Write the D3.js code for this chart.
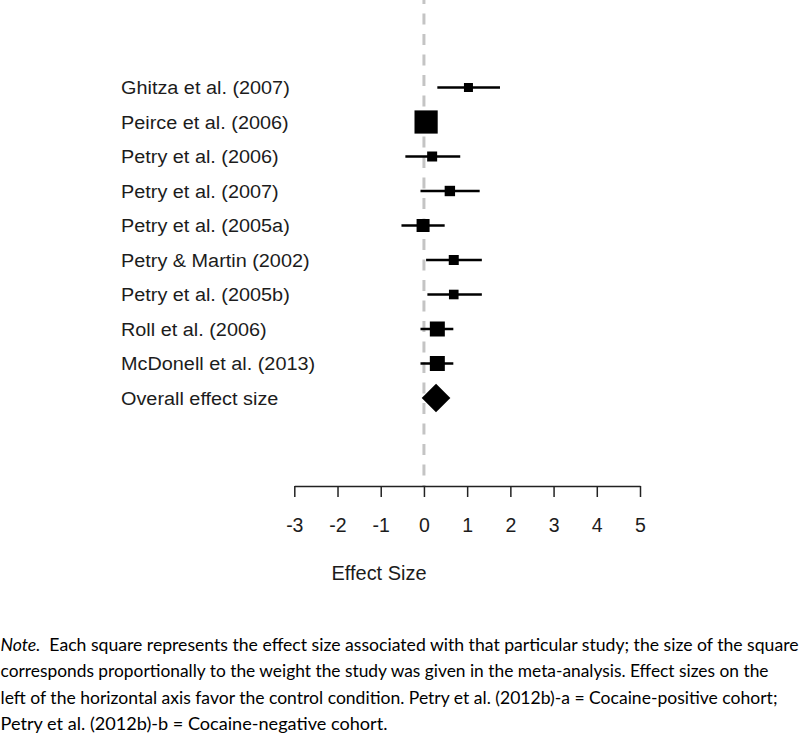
<!DOCTYPE html>
<html lang="en">
<head>
	<meta charset="utf-8">
	<title>Forest plot</title>
	<style type="text/css">
		body { margin: 0; background: #fff; }
		svg { display: block; }
	</style>
</head>
<body>
	<div id="content"></div>

	<script src="https://cdnjs.cloudflare.com/ajax/libs/d3/7.8.5/d3.min.js"></script>
	<script type="text/javascript">
		// data
		var studies = ["Ghitza et al. (2007)", "Peirce et al. (2006)", "Petry et al. (2006)",
			"Petry et al. (2007)", "Petry et al. (2005a)", "Petry & Martin (2002)",
			"Petry et al. (2005b)", "Roll et al. (2006)", "McDonell et al. (2013)"];
		var effect = [1.03, 0.05, 0.19, 0.60, -0.02, 0.69, 0.69, 0.31, 0.31];
		var ciLow = [0.31, -0.20, -0.43, -0.08, -0.52, 0.05, 0.08, -0.08, -0.08];
		var ciHigh = [1.76, 0.30, 0.84, 1.29, 0.48, 1.34, 1.34, 0.68, 0.68];
		var weight = [4.5, 11.6, 5.0, 5.2, 6.5, 5.0, 4.8, 7.5, 7.5];

		var overallLabel = "Overall effect size";
		var overallEffect = 0.28;

		var xTicks = [-3, -2, -1, 0, 1, 2, 3, 4, 5];
		var xTitle = "Effect Size";

		var noteLines = [
			["Note.", "  Each square represents the effect size associated with that particular study; the size of the square"],
			["", "corresponds proportionally to the weight the study was given in the meta-analysis. Effect sizes on the"],
			["", "left of the horizontal axis favor the control condition. Petry et al. (2012b)-a = Cocaine-positive cohort;"],
			["", "Petry et al. (2012b)-b = Cocaine-negative cohort."]
		];
		var noteWidths = [798, 768, 777, 387];

		var w = 800, h = 734;

		var svg = d3.select("#content").append("svg")
			.attr("width", w)
			.attr("height", h);

		var x = d3.scaleLinear().domain([-3, 5]).range([294.3, 640]);
		var y = d3.scalePoint().domain(studies.concat([overallLabel])).range([87.5, 398]);
		var side = d3.scaleLinear().domain([0, 1]).range([0, 2]);

		var labelFont = "'Liberation Sans', Arial, sans-serif";

		// reference line at zero
		svg.append("line")
			.attr("x1", x(0)).attr("x2", x(0))
			.attr("y1", 0).attr("y2", 486)
			.attr("stroke", "#c4c4c4")
			.attr("stroke-width", 3)
			.attr("stroke-dasharray", "11,9.5")
			.attr("stroke-dashoffset", 7);

		var rows = studies.map(function (s, i) {
			return { name: s, est: effect[i], lo: ciLow[i], hi: ciHigh[i], wt: weight[i] };
		});

		// study labels (the original is a bit stretched sideways)
		svg.append("g")
			.attr("transform", "translate(121,0) scale(1.045,1)")
			.selectAll("text.label")
			.data(studies.concat([overallLabel]))
			.enter().append("text")
			.attr("class", "label")
			.attr("x", 0)
			.attr("y", function (d) { return y(d) + 7; })
			.attr("font-family", labelFont)
			.attr("font-size", 19)
			.attr("fill", "#1c1c1c")
			.text(function (d) { return d; });

		// confidence intervals
		svg.selectAll("line.ci")
			.data(rows)
			.enter().append("line")
			.attr("class", "ci")
			.attr("x1", function (d) { return x(d.lo); })
			.attr("x2", function (d) { return x(d.hi); })
			.attr("y1", function (d) { return y(d.name); })
			.attr("y2", function (d) { return y(d.name); })
			.attr("stroke", "#000")
			.attr("stroke-width", 2.7);

		// squares sized by weight
		svg.selectAll("rect.est")
			.data(rows)
			.enter().append("rect")
			.attr("class", "est")
			.attr("x", function (d) { return x(d.est) - side(d.wt) / 2; })
			.attr("y", function (d) { return y(d.name) - side(d.wt) / 2; })
			.attr("width", function (d) { return side(d.wt); })
			.attr("height", function (d) { return side(d.wt); })
			.attr("fill", "#000");

		// overall diamond
		svg.append("path")
			.attr("d", d3.symbol(d3.symbolSquare, 410)())
			.attr("transform", "translate(" + x(overallEffect) + "," + y(overallLabel) + ") rotate(45)")
			.attr("fill", "#000");

		// axis
		var axis = svg.append("g")
			.attr("transform", "translate(0,486)")
			.call(d3.axisBottom(x)
				.tickValues(xTicks)
				.tickFormat(function (d) { return String(d); })
				.tickSize(11)
				.tickSizeOuter(0)
				.tickPadding(21));
		axis.select(".domain").attr("stroke", "#222").attr("stroke-width", 1.5);
		axis.selectAll(".tick line").attr("stroke", "#222").attr("stroke-width", 1.5);
		axis.selectAll(".tick text")
			.attr("font-family", labelFont)
			.attr("font-size", 19.5)
			.attr("fill", "#1c1c1c");

		svg.append("text")
			.attr("x", 379)
			.attr("y", 580)
			.attr("text-anchor", "middle")
			.attr("font-family", labelFont)
			.attr("font-size", 19.5)
			.attr("textLength", 95)
			.attr("lengthAdjust", "spacingAndGlyphs")
			.attr("fill", "#1c1c1c")
			.text(xTitle);

		// note under the figure
		noteLines.forEach(function (line, i) {
			var t = svg.append("text")
				.attr("x", 0.5)
				.attr("y", 650.5 + i * 26.5)
				.attr("font-family", "Lato, 'Open Sans', sans-serif")
				.attr("font-size", 17.5)
				.attr("fill", "#000")
				.attr("textLength", noteWidths[i])
				.attr("lengthAdjust", "spacingAndGlyphs")
				.style("white-space", "pre");
			if (line[0]) {
				t.append("tspan").attr("font-style", "italic").text(line[0]);
			}
			t.append("tspan").text(line[1]);
		});
	</script>
</body>
</html>
